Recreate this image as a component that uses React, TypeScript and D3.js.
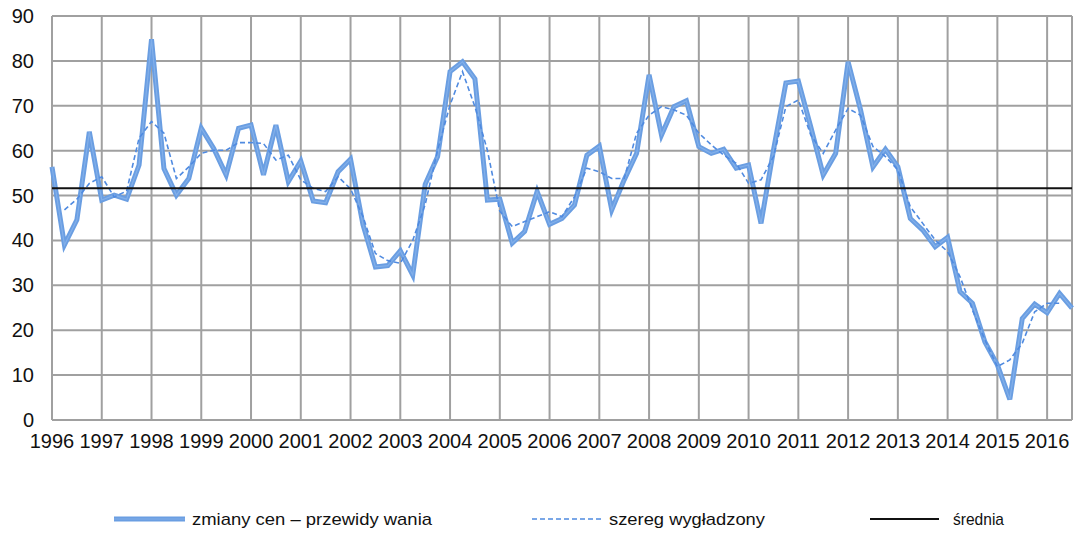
import React from "react";
import * as d3 from "d3";

// quarterly, 1996 Q1 .. 2016 Q3
const years = d3.range(1996, 2017);
const actual = [
  56.4, 39.0, 44.6, 64.2, 49.0, 50.1, 49.2, 56.8, 84.8, 56.0,
  50.1, 53.8, 65.0, 60.5, 54.6, 65.0, 65.7, 54.6, 65.7, 53.1,
  57.7, 48.8, 48.4, 55.3, 58.1, 43.5, 34.1, 34.4, 37.7, 32.3,
  52.5, 58.7, 77.6, 79.8, 76.0, 49.0, 49.2, 39.4, 42.0, 50.9,
  43.6, 44.9, 47.9, 59.0, 61.0, 46.8, 53.5, 59.4, 76.9, 63.5,
  69.8, 71.1, 60.9, 59.4, 60.3, 56.1, 56.8, 43.8, 60.1, 75.1,
  75.5, 65.3, 54.6, 59.4, 79.8, 69.1, 56.4, 60.3, 56.4, 44.9,
  42.3, 38.6, 40.7, 28.6, 26.0, 17.4, 12.3, 4.6, 22.6, 25.8,
  23.9, 28.2, 24.9,
];
const smoothed = [
  null, 46.8, 49.2, 52.7, 54.2, 49.7, 51.0, 62.8, 66.5, 63.9,
  53.8, 56.4, 59.4, 60.1, 60.1, 61.8, 61.8, 61.6, 57.9, 59.0,
  53.5, 51.6, 50.9, 54.2, 51.5, 45.3, 37.1, 35.5, 34.9, 40.0,
  48.0, 60.1, 70.2, 77.6, 69.8, 60.1, 46.5, 43.1, 44.2, 45.3,
  46.4, 45.3, 49.7, 56.1, 55.3, 53.8, 53.8, 63.9, 67.9, 69.8,
  69.1, 67.9, 63.9, 61.3, 59.0, 57.2, 52.7, 53.5, 58.7, 69.8,
  71.3, 63.5, 59.4, 64.6, 69.4, 67.9, 60.9, 58.7, 55.7, 47.5,
  43.8, 40.1, 37.5, 31.9, 24.5, 17.8, 11.9, 13.4, 17.1, 24.1,
  26.0, 26.0, null,
];
const average = 51.6;
const yTicks = d3.range(0, 100, 10);
const legendItems = ["zmiany cen – przewidy wania", "szereg wygładzony", "średnia"];

const W = 1075;
const H = 534;
const left = 52;
const right = 1072;
const top = 16;
const bottom = 420;
const font = "'Liberation Sans', Arial, sans-serif";

export default function App() {
  const x = d3.scaleLinear().domain([0, actual.length - 1]).range([left, right]);
  const y = d3.scaleLinear().domain([0, 90]).range([bottom, top]);

  const line = d3
    .line<number | null>()
    .defined((d) => d != null)
    .x((_, i) => x(i))
    .y((d) => y(d as number));

  const grid = "#a0a0a0";
  const blue = "#6a9ee2";
  const dashBlue = "#4f8ae0";

  return (
    <div style={{ position: "absolute", left: 0, top: 0 }}>
      <svg width={W} height={H} style={{ display: "block", background: "#fff" }}>
        {/* horizontal grid */}
        {yTicks.map((t) => (
          <line key={"h" + t} x1={left} x2={right} y1={y(t)} y2={y(t)} stroke={grid} strokeWidth={2} />
        ))}
        {/* vertical grid, one per year */}
        {years.map((yr, k) => (
          <line key={"v" + yr} x1={x(k * 4)} x2={x(k * 4)} y1={top} y2={bottom} stroke={grid} strokeWidth={2} />
        ))}
        <line x1={right} x2={right} y1={top} y2={bottom} stroke={grid} strokeWidth={2} />

        {/* y labels */}
        {yTicks.map((t) => (
          <text key={"yl" + t} x={34} y={y(t) + 7} textAnchor="end" fontFamily={font} fontSize={20} fill="#111">
            {t}
          </text>
        ))}
        {/* x labels */}
        {years.map((yr, k) => (
          <text key={"xl" + yr} x={x(k * 4)} y={448} textAnchor="middle" fontFamily={font} fontSize={20} fill="#111">
            {yr}
          </text>
        ))}

        {/* series */}
        <path d={line(actual) ?? ""} fill="none" stroke={blue} strokeWidth={5} strokeLinejoin="miter" />
        <path d={line(actual) ?? ""} fill="none" stroke="#8db6ec" strokeWidth={1.2} opacity={0.7} />
        <path d={line(smoothed) ?? ""} fill="none" stroke={dashBlue} strokeWidth={1.6} strokeDasharray="5,3" />
        <line x1={left} x2={right} y1={y(average)} y2={y(average)} stroke="#111" strokeWidth={2} />

        {/* legend */}
        <g fontFamily={font} fontSize={17} fill="#111">
          <line x1={114} x2={185} y1={519} y2={519} stroke={blue} strokeWidth={5} />
          <line x1={114} x2={185} y1={519} y2={519} stroke="#8db6ec" strokeWidth={1.2} opacity={0.7} />
          <text x={192} y={525} textLength={240} lengthAdjust="spacingAndGlyphs">{legendItems[0]}</text>
          <line x1={532} x2={603} y1={519} y2={519} stroke={dashBlue} strokeWidth={1.6} strokeDasharray="5,3" />
          <text x={609} y={525} textLength={156} lengthAdjust="spacingAndGlyphs">{legendItems[1]}</text>
          <line x1={870} x2={939} y1={519} y2={519} stroke="#111" strokeWidth={2} />
          <text x={953} y={525} textLength={51} lengthAdjust="spacingAndGlyphs">{legendItems[2]}</text>
        </g>
      </svg>
    </div>
  );
}
